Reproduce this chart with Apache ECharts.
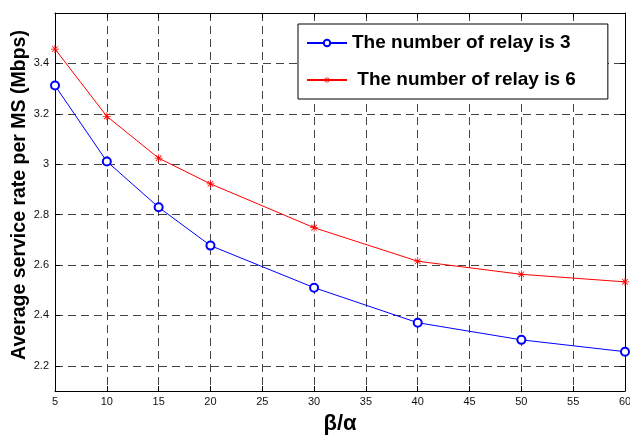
<!DOCTYPE html>
<html>
<head>
<meta charset="utf-8">
<script src="https://cdn.jsdelivr.net/npm/echarts@6/dist/echarts.min.js"></script>
<style>
html,body{margin:0;padding:0;background:#fff;}
#chart{width:630px;height:437px;}
</style>
</head>
<body>
<div id="chart"></div>
<script>
// ---- data ----
const xValues = [5, 10, 15, 20, 30, 40, 50, 60];
const relay3 = [3.312, 3.011, 2.829, 2.677, 2.510, 2.371, 2.303, 2.256];
const relay6 = [3.457, 3.190, 3.024, 2.922, 2.748, 2.615, 2.563, 2.533];
const seriesNames = ['The number of relay is 3', 'The number of relay is 6'];
const xTitle = 'β/α';
const yTitle = 'Average service rate per MS (Mbps)';

const FONT = "'Liberation Sans', Arial, sans-serif";
const asterisk = 'path://M-0.1,-1 L0.1,-1 L0.1,1 L-0.1,1 Z M-1,-0.1 L1,-0.1 L1,0.1 L-1,0.1 Z M-0.77,-0.63 L-0.63,-0.77 L0.77,0.63 L0.63,0.77 Z M0.63,-0.77 L0.77,-0.63 L-0.63,0.77 L-0.77,0.63 Z';

const gridLine = { show: true, lineStyle: { color: '#444', width: 1, type: [8, 5] } };
const frameLine = { show: true, onZero: false, lineStyle: { color: '#000', width: 1 } };
const inTick = { show: true, inside: true, length: 5, lineStyle: { color: '#000' } };

const chart = echarts.init(document.getElementById('chart'), null, { renderer: 'canvas' });
chart.setOption({
  backgroundColor: '#fff',
  animation: false,
  textStyle: { fontFamily: FONT },
  grid: { left: 55, right: 5, top: 13, bottom: 46, containLabel: false, outerBoundsMode: 'none' },
  legend: {
    orient: 'vertical',
    left: 298, top: 24,
    padding: [9, 32, 9, 8],
    itemWidth: 40, itemHeight: 8, itemGap: 17,
    backgroundColor: '#fff', borderColor: '#000', borderWidth: 1, borderRadius: 0,
    formatter: function (name) { return name === seriesNames[1] ? ' ' + name : name; },
    textStyle: { fontFamily: FONT, fontSize: 19, fontWeight: 'bold', color: '#000', lineHeight: 20 },
    data: seriesNames
  },
  xAxis: [{
    type: 'value', min: 5, max: 60, interval: 5, position: 'bottom',
    name: xTitle, nameLocation: 'middle', nameGap: 22, nameMoveOverlap: false,
    nameTextStyle: { fontFamily: FONT, fontSize: 22, fontWeight: 'bold', color: '#000' },
    axisLine: frameLine, axisTick: inTick,
    axisLabel: { fontFamily: FONT, fontSize: 11, color: '#111', margin: 5 },
    splitLine: gridLine
  }, {
    type: 'value', min: 5, max: 60, interval: 5, position: 'top',
    axisLine: frameLine, axisTick: inTick, axisLabel: { show: false }, splitLine: { show: false }
  }],
  yAxis: [{
    type: 'value', min: 2.1, max: 3.6, splitNumber: 7, position: 'left',
    name: yTitle, nameLocation: 'middle', nameGap: 25, nameMoveOverlap: false,
    nameTextStyle: { fontFamily: FONT, fontSize: 19.5, fontWeight: 'bold', color: '#000', padding: [0, 0, 0, 14] },
    axisLine: frameLine, axisTick: inTick,
    axisLabel: { fontFamily: FONT, fontSize: 11, color: '#111', margin: 6, showMinLabel: false, showMaxLabel: false },
    splitLine: gridLine
  }, {
    type: 'value', min: 2.1, max: 3.6, splitNumber: 7, position: 'right',
    axisLine: frameLine, axisTick: inTick, axisLabel: { show: false }, splitLine: { show: false }
  }],
  series: [{
    name: seriesNames[0], type: 'line', xAxisIndex: 0, yAxisIndex: 0,
    data: xValues.map((x, i) => [x, relay3[i]]),
    symbol: 'emptyCircle', symbolSize: 8,
    lineStyle: { color: '#0000ff', width: 1 },
    itemStyle: { color: '#0000ff', borderColor: '#0000ff', borderWidth: 1 },
    z: 3
  }, {
    name: seriesNames[1], type: 'line', xAxisIndex: 0, yAxisIndex: 0,
    data: xValues.map((x, i) => [x, relay6[i]]),
    symbol: asterisk, symbolSize: 8, symbolKeepAspect: true,
    lineStyle: { color: '#ff0000', width: 1 },
    itemStyle: { color: '#ff0000' },
    z: 3
  }]
});
</script>
</body>
</html>
